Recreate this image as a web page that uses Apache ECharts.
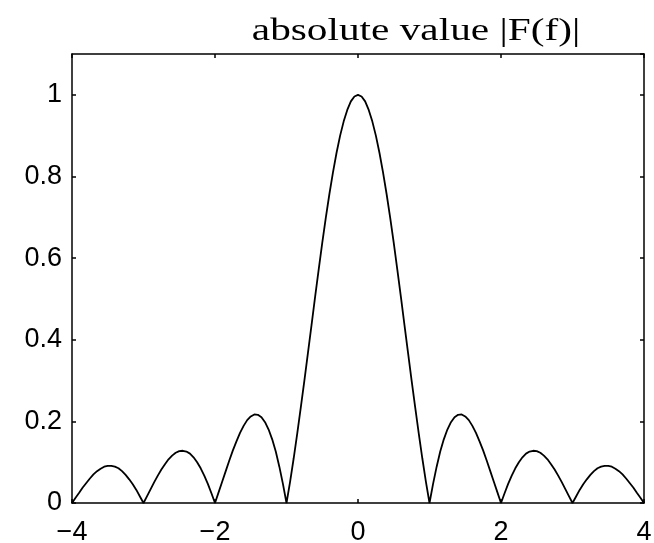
<!DOCTYPE html>
<html>

<head>
	<meta charset="UTF-8">
	<title></title>
	<style>
		html, body { margin: 0; padding: 0; background: #fff; }
		#chart { width: 654px; height: 543px; }
	</style>
	<script src="https://cdn.jsdelivr.net/npm/echarts@6/dist/echarts.min.js"></script>
</head>

<body>
	<div id="chart"></div>
	<script>
		// frequency samples (step 0.05) and |F(f)|
		var freq = [
			-4.00, -3.95, -3.90, -3.85, -3.80, -3.75, -3.70, -3.65, -3.60, -3.55,
			-3.50, -3.45, -3.40, -3.35, -3.30, -3.25, -3.20, -3.15, -3.10, -3.05,
			-3.00, -2.95, -2.90, -2.85, -2.80, -2.75, -2.70, -2.65, -2.60, -2.55,
			-2.50, -2.45, -2.40, -2.35, -2.30, -2.25, -2.20, -2.15, -2.10, -2.05,
			-2.00, -1.95, -1.90, -1.85, -1.80, -1.75, -1.70, -1.65, -1.60, -1.55,
			-1.50, -1.45, -1.40, -1.35, -1.30, -1.25, -1.20, -1.15, -1.10, -1.05,
			-1.00, -0.95, -0.90, -0.85, -0.80, -0.75, -0.70, -0.65, -0.60, -0.55,
			-0.50, -0.45, -0.40, -0.35, -0.30, -0.25, -0.20, -0.15, -0.10, -0.05,
			0.00,
			0.05, 0.10, 0.15, 0.20, 0.25, 0.30, 0.35, 0.40, 0.45, 0.50,
			0.55, 0.60, 0.65, 0.70, 0.75, 0.80, 0.85, 0.90, 0.95, 1.00,
			1.05, 1.10, 1.15, 1.20, 1.25, 1.30, 1.35, 1.40, 1.45, 1.50,
			1.55, 1.60, 1.65, 1.70, 1.75, 1.80, 1.85, 1.90, 1.95, 2.00,
			2.05, 2.10, 2.15, 2.20, 2.25, 2.30, 2.35, 2.40, 2.45, 2.50,
			2.55, 2.60, 2.65, 2.70, 2.75, 2.80, 2.85, 2.90, 2.95, 3.00,
			3.05, 3.10, 3.15, 3.20, 3.25, 3.30, 3.35, 3.40, 3.45, 3.50,
			3.55, 3.60, 3.65, 3.70, 3.75, 3.80, 3.85, 3.90, 3.95, 4.00
		];
		var magnitude = [
			0, 0.013, 0.025, 0.038, 0.049, 0.060, 0.070, 0.078, 0.084, 0.089,
			0.091, 0.091, 0.089, 0.085, 0.078, 0.069, 0.058, 0.046, 0.032, 0.016,
			0, 0.017, 0.034, 0.051, 0.067, 0.082, 0.095, 0.107, 0.116, 0.123,
			0.127, 0.128, 0.126, 0.121, 0.112, 0.100, 0.085, 0.067, 0.047, 0.024,
			0, 0.026, 0.052, 0.078, 0.104, 0.129, 0.151, 0.172, 0.189, 0.203,
			0.212, 0.217, 0.216, 0.210, 0.198, 0.180, 0.156, 0.126, 0.089, 0.047,
			0, 0.052, 0.109, 0.170, 0.234, 0.300, 0.368, 0.436, 0.505, 0.572,
			0.637, 0.699, 0.757, 0.810, 0.858, 0.900, 0.935, 0.963, 0.984, 0.996,
			1.000,
			0.996, 0.984, 0.963, 0.935, 0.900, 0.858, 0.810, 0.757, 0.699, 0.637,
			0.572, 0.505, 0.436, 0.368, 0.300, 0.234, 0.170, 0.109, 0.052, 0,
			0.047, 0.089, 0.126, 0.156, 0.180, 0.198, 0.210, 0.216, 0.217, 0.212,
			0.203, 0.189, 0.172, 0.151, 0.129, 0.104, 0.078, 0.052, 0.026, 0,
			0.024, 0.047, 0.067, 0.085, 0.100, 0.112, 0.121, 0.126, 0.128, 0.127,
			0.123, 0.116, 0.107, 0.095, 0.082, 0.067, 0.051, 0.034, 0.017, 0,
			0.016, 0.032, 0.046, 0.058, 0.069, 0.078, 0.085, 0.089, 0.091, 0.091,
			0.089, 0.084, 0.078, 0.070, 0.060, 0.049, 0.038, 0.025, 0.013, 0
		];
		var titleText = 'absolute value |F(f)|';

		var points = freq.map(function (f, i) { return [f, magnitude[i]]; });

		var labelFont = { color: '#000', fontFamily: 'Liberation Sans', fontSize: 27 };
		var lineStyle = { color: '#000', width: 1.5 };

		var myChart = echarts.init(document.getElementById('chart'));
		myChart.setOption({
			animation: false,
			backgroundColor: '#fff',
			grid: { left: 72, right: 10, top: 54, bottom: 40, outerBoundsMode: 'none', containLabel: false },
			graphic: [{
				type: 'text',
				x: 416, y: 48,
				scaleX: 1.29,
				style: {
					text: titleText,
					fill: '#000',
					font: '32px "Liberation Serif"',
					textAlign: 'center',
					textVerticalAlign: 'bottom'
				}
			}],
			xAxis: [
				{
					type: 'value', min: -4, max: 4, interval: 2,
					axisLine: { onZero: false, lineStyle: lineStyle },
					axisTick: { inside: true, length: 4, lineStyle: lineStyle },
					splitLine: { show: false },
					axisLabel: Object.assign({ margin: 16, formatter: function (v) { return String(v).replace('-', '\u2212'); } }, labelFont)
				},
				{
					type: 'value', min: -4, max: 4, interval: 2, position: 'top',
					axisLine: { onZero: false, lineStyle: lineStyle },
					axisTick: { inside: true, length: 4, lineStyle: lineStyle },
					splitLine: { show: false },
					axisLabel: { show: false }
				}
			],
			yAxis: [
				{
					type: 'value', min: 0, max: 1.1, interval: 0.2,
					axisLine: { show: true, onZero: false, lineStyle: lineStyle },
					axisTick: { show: true, inside: true, length: 4, lineStyle: lineStyle },
					splitLine: { show: false },
					axisLabel: Object.assign({ margin: 10, showMaxLabel: false }, labelFont)
				},
				{
					type: 'value', min: 0, max: 1.1, interval: 0.2, position: 'right',
					axisLine: { show: true, onZero: false, lineStyle: lineStyle },
					axisTick: { show: true, inside: true, length: 4, lineStyle: lineStyle },
					splitLine: { show: false },
					axisLabel: { show: false }
				}
			],
			series: [{
				type: 'line',
				data: points,
				showSymbol: false,
				smooth: false,
				lineStyle: { color: '#000', width: 1.8 }
			}]
		});
	</script>
</body>

</html>
